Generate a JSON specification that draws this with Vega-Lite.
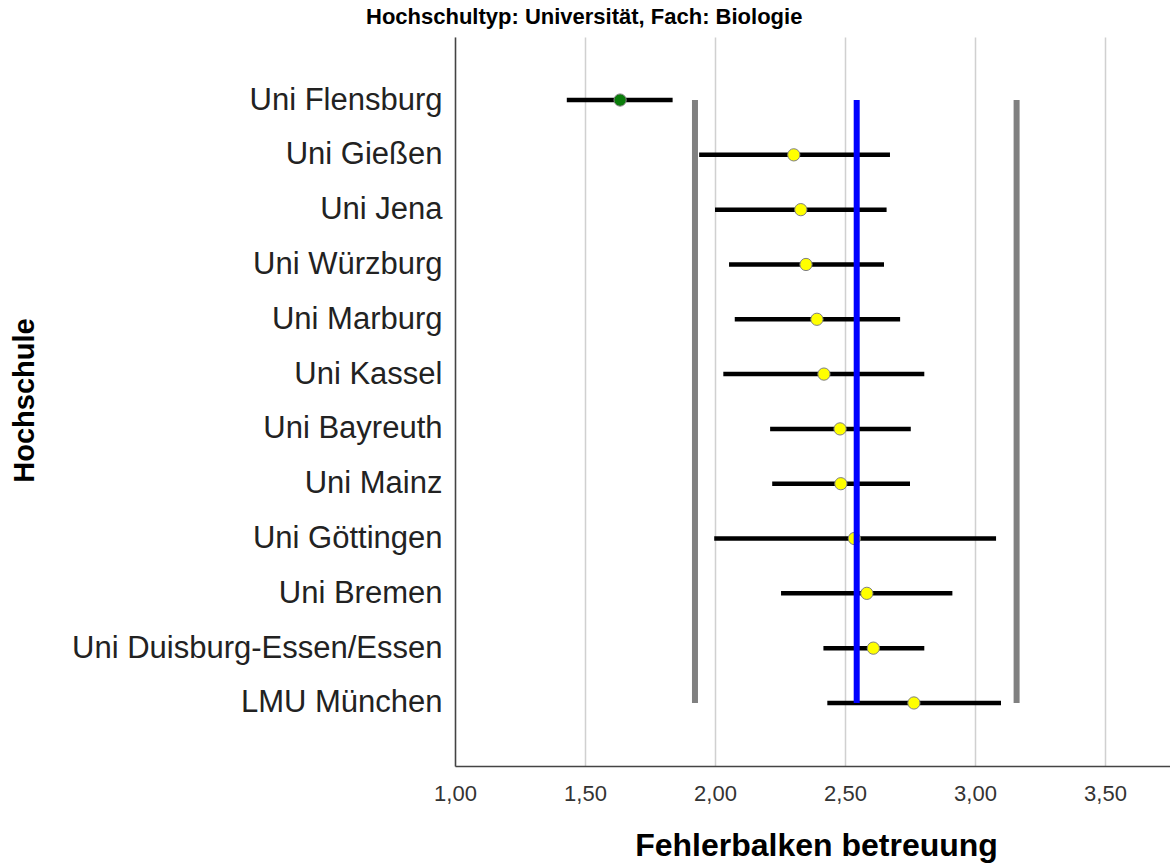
{
  "$schema": "https://vega.github.io/schema/vega-lite/v6.json",
  "autosize": {"type": "none"},
  "padding": {"left": 455, "top": 37, "right": 0, "bottom": 100},
  "width": 715,
  "height": 729,
  "background": "white",
  "config": {"view": {"stroke": null}},
  "title": {
    "text": "Hochschultyp: Universität, Fach: Biologie",
    "font": "Liberation Sans",
    "fontSize": 22,
    "fontWeight": "bold",
    "color": "#000000",
    "anchor": "start",
    "frame": "group",
    "dx": -89,
    "dy": 27,
    "baseline": "alphabetic",
    "offset": 10
  },
  "datasets": {
    "balken": [
      {"hochschule": "Uni Flensburg", "mittel": 1.635, "unten": 1.430, "oben": 1.837, "gruppe": "unter"},
      {"hochschule": "Uni Gießen", "mittel": 2.303, "unten": 1.939, "oben": 2.673, "gruppe": "mittel"},
      {"hochschule": "Uni Jena", "mittel": 2.330, "unten": 2.000, "oben": 2.660, "gruppe": "mittel"},
      {"hochschule": "Uni Würzburg", "mittel": 2.350, "unten": 2.054, "oben": 2.650, "gruppe": "mittel"},
      {"hochschule": "Uni Marburg", "mittel": 2.392, "unten": 2.076, "oben": 2.712, "gruppe": "mittel"},
      {"hochschule": "Uni Kassel", "mittel": 2.419, "unten": 2.032, "oben": 2.805, "gruppe": "mittel"},
      {"hochschule": "Uni Bayreuth", "mittel": 2.481, "unten": 2.212, "oben": 2.753, "gruppe": "mittel"},
      {"hochschule": "Uni Mainz", "mittel": 2.484, "unten": 2.220, "oben": 2.750, "gruppe": "mittel"},
      {"hochschule": "Uni Göttingen", "mittel": 2.536, "unten": 1.997, "oben": 3.081, "gruppe": "mittel"},
      {"hochschule": "Uni Bremen", "mittel": 2.584, "unten": 2.254, "oben": 2.913, "gruppe": "mittel"},
      {"hochschule": "Uni Duisburg-Essen/Essen", "mittel": 2.609, "unten": 2.417, "oben": 2.805, "gruppe": "mittel"},
      {"hochschule": "LMU München", "mittel": 2.765, "unten": 2.432, "oben": 3.100, "gruppe": "mittel"}
    ],
    "referenz": [
      {"wert": 1.923, "art": "Grenze"},
      {"wert": 2.545, "art": "Mittelwert"},
      {"wert": 3.160, "art": "Grenze"}
    ]
  },
  "encoding": {
    "y": {
      "field": "hochschule",
      "type": "nominal",
      "sort": null,
      "scale": {
        "type": "point",
        "padding": 0.15,
        "domain": ["", "Uni Flensburg", "Uni Gießen", "Uni Jena", "Uni Würzburg", "Uni Marburg", "Uni Kassel", "Uni Bayreuth", "Uni Mainz", "Uni Göttingen", "Uni Bremen", "Uni Duisburg-Essen/Essen", "LMU München", " "]
      },
      "axis": {
        "title": "Hochschule",
        "titleFont": "Liberation Sans",
        "titleFontSize": 29,
        "titleFontWeight": "bold",
        "titleColor": "#000000",
        "titleAngle": -90,
        "titleAlign": "center",
        "titleBaseline": "middle",
        "titleX": -431,
        "titleY": 363,
        "labelFont": "Liberation Sans",
        "labelFontSize": 31,
        "labelColor": "#222222",
        "labelPadding": 13,
        "labelLimit": 600,
        "ticks": false,
        "grid": false,
        "domainColor": "#444444",
        "domainWidth": 1.5
      }
    }
  },
  "layer": [
    {
      "data": {"name": "balken"},
      "mark": {"type": "rule", "strokeWidth": 4.5, "color": "#000000"},
      "encoding": {
        "x": {
          "field": "unten",
          "type": "quantitative",
          "scale": {"domain": [1, 3.75], "nice": false, "zero": false},
          "axis": {
            "values": [1, 1.5, 2, 2.5, 3, 3.5],
            "labelExpr": "replace(format(datum.value, '.2f'), '.', ',')",
            "labelFlush": false,
            "title": "Fehlerbalken betreuung",
            "titleFont": "Liberation Sans",
            "titleFontSize": 32,
            "titleFontWeight": "bold",
            "titleColor": "#000000",
            "titleAlign": "center",
            "titleBaseline": "alphabetic",
            "titleX": 361,
            "titleY": 89,
            "labelFont": "Liberation Sans",
            "labelFontSize": 22,
            "labelColor": "#333333",
            "labelPadding": 17,
            "ticks": false,
            "grid": true,
            "gridColor": "#d0d0d0",
            "gridWidth": 1.5,
            "domainColor": "#444444",
            "domainWidth": 1.5
          }
        },
        "x2": {"field": "oben"}
      }
    },
    {
      "data": {"name": "balken"},
      "mark": {"type": "point", "filled": true, "shape": "circle", "size": 150, "stroke": "#808080", "strokeWidth": 1, "opacity": 1},
      "encoding": {
        "x": {"field": "mittel", "type": "quantitative"},
        "fill": {
          "field": "gruppe",
          "type": "nominal",
          "scale": {"domain": ["unter", "mittel"], "range": ["#0a7d0a", "#ffff00"]},
          "legend": null
        }
      }
    },
    {
      "data": {"name": "referenz"},
      "mark": {"type": "rule", "strokeWidth": 6},
      "encoding": {
        "x": {"field": "wert", "type": "quantitative"},
        "y": {"datum": "Uni Flensburg", "type": "nominal"},
        "y2": {"datum": "LMU München"},
        "stroke": {
          "field": "art",
          "type": "nominal",
          "scale": {"domain": ["Grenze", "Mittelwert"], "range": ["#808080", "#0000ff"]},
          "legend": null
        }
      }
    }
  ]
}
